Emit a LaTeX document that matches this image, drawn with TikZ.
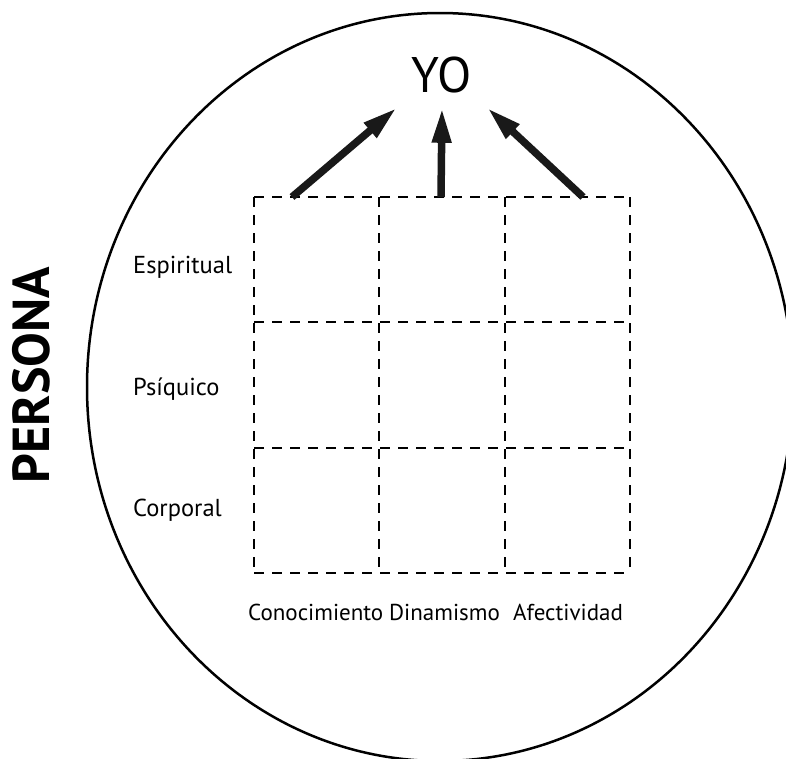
\documentclass[tikz,border=0pt]{standalone}
\usepackage{fontspec}
\setmainfont{PT Sans}
\usetikzlibrary{arrows.meta}

\tikzset{
  rowlabel/.style={anchor=base west, inner sep=0pt, font=\fontsize{24.5}{30}\selectfont},
  collabel/.style={anchor=base west, inner sep=0pt, font=\fontsize{23}{30}\selectfont},
  cellline/.style={line width=2.2pt, dash pattern=on 10pt off 8pt},
  toyo/.style={line width=7.5pt, draw=black!90, -{Triangle[length=35pt,width=18pt]}}
}

\begin{document}
\begin{tikzpicture}[x=1pt,y=-1pt]

        \useasboundingbox (0,0) rectangle (786,758);

        % persona
        \draw[line width=2.5pt] (440,387) ellipse [x radius=353, y radius=374];
        \node[rotate=90, font=\bfseries\fontsize{52}{60}\selectfont] (persona) at (31,375) {PERSONA};

        % yo
        \node[anchor=base, inner sep=15pt, font=\fontsize{50}{60}\selectfont] (yo) at (442,92) {YO};

        % grid
        \foreach \i in {0,...,3} {
          \draw[cellline] (254+125.33*\i,197) -- (254+125.33*\i,573);
          \draw[cellline] (254,197+125.33*\i) -- (630,197+125.33*\i);
        }

        \begin{scope}
          \node[rowlabel] (espiritual) at (133,273) {Espiritual};
          \node[rowlabel] (psiquico)   at (133,395) {Psíquico};
          \node[rowlabel] (corporal)   at (133,516) {Corporal};
          \node[collabel] (conocimiento) at (248,620) {Conocimiento};
          \node[collabel] (dinamismo)    at (389,620) {Dinamismo};
          \node[collabel] (afectividad)  at (513,620) {Afectividad};
        \end{scope}

        % arrows to yo
        \coordinate (c1) at (292,197);
        \coordinate (c2) at (441,197);
        \coordinate (c3) at (583,197);
        \draw[toyo] (c1) -- (yo.south west);
        \draw[toyo] (c2) -- (yo.south);
        \draw[toyo] (c3) -- (yo.south east);

      \end{tikzpicture}
\end{document}
